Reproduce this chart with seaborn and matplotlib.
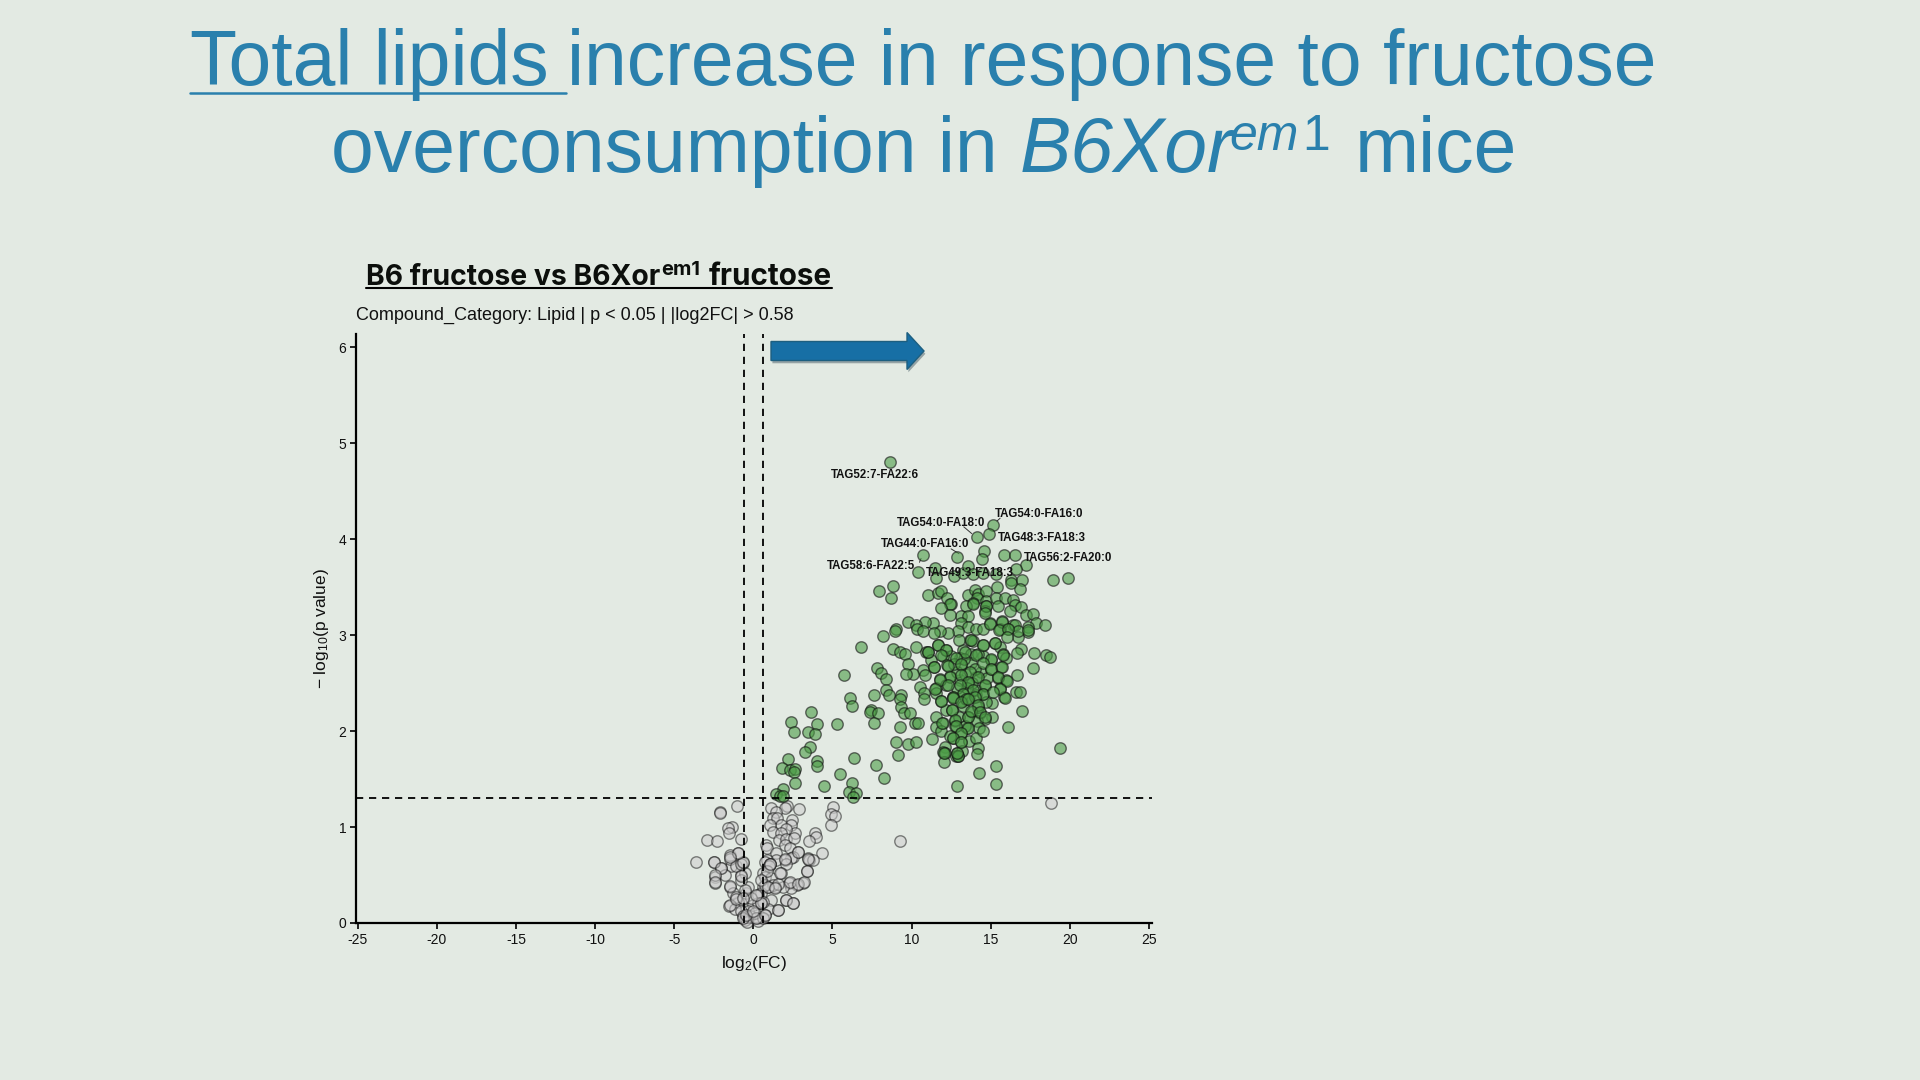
import matplotlib
matplotlib.use('Agg')
import matplotlib.pyplot as plt
import matplotlib.patches as mpatches
import matplotlib.patheffects as pe
from matplotlib.transforms import IdentityTransform
import pandas as pd
import seaborn as sns

# values
green_x = [8.66, 15.15, 14.89, 14.11, 14.58, 14.43, 10.72, 12.87, 15.84, 16.52, 17.21, 16.62, 19.89, 18.94,
           10.43, 11.46, 11.52, 12.70, 13.25, 13.57, 13.88, 14.51, 15.36, 16.30, 16.26, 16.98, 16.83, 15.42,
           8.82, 7.94, 8.70, 11.02, 11.67, 11.88, 12.24, 12.51, 12.45, 11.88, 13.57, 13.99, 14.20, 14.68,
           14.13, 14.72, 13.88, 15.36, 15.88, 16.41, 16.56, 16.94, 13.46, 15.46, 14.68, 14.62, 13.14, 13.57,
           12.41, 16.24, 17.25, 17.67, 17.88, 18.43, 15.74, 14.94, 16.41, 17.36, 17.36, 16.73, 16.09, 15.57,
           13.14, 13.57, 14.09, 14.51, 12.93, 12.30, 11.77, 11.35, 10.87, 9.77, 10.30, 10.34, 10.72, 11.40,
           8.99, 8.95, 8.21, 6.78, 8.82, 9.25, 9.56, 10.30, 11.67, 10.93, 11.04, 12.15, 13.25, 13.67, 13.88,
           14.51, 15.25, 15.57, 16.94, 17.72, 18.52, 18.77, 16.66, 15.78, 15.99, 15.04, 14.51, 13.78, 13.04,
           12.51, 11.99, 11.25, 9.77, 11.40, 10.72, 10.83, 10.09, 9.63, 7.84, 8.05, 8.36, 5.73, 12.26, 13.14,
           13.78, 14.41, 15.04, 15.67, 17.66, 16.66, 15.46, 14.09, 12.45, 11.77, 13.04, 13.57, 12.20, 10.55,
           11.56, 8.36, 14.62, 15.57, 14.09, 13.25, 15.99,
           6.09, 6.23, 7.62, 8.57, 9.35, 9.25, 9.35, 9.50, 9.92, 10.78, 10.78, 7.46, 7.35, 7.88, 7.65, 3.66,
           2.36, 4.04, 5.30, 2.57, 3.47, 3.89, 3.56, 3.28, 9.29, 10.20, 10.41, 9.00, 9.75, 10.26, 9.12, 6.38,
           2.19, 4.00, 4.04, 1.83, 2.34, 2.65, 2.57, 5.45, 7.73, 8.26, 2.65, 6.26, 4.48, 1.87, 1.45, 1.66,
           1.87, 6.02, 6.51, 6.28, 12.89, 15.36, 14.26, 15.34, 19.36, 17.00, 16.12, 15.06, 15.86, 16.62,
           16.83, 11.56, 11.88, 12.62, 13.19, 13.63, 14.09, 14.51, 12.20, 12.58, 13.25, 13.84, 14.30, 15.10,
           14.62, 11.56, 11.99, 12.72, 13.57, 14.16, 11.52, 11.88, 12.72, 13.50, 14.24, 13.14, 11.29, 12.62,
           13.14, 13.63, 14.05, 12.09, 11.99, 12.09, 12.87, 13.21, 14.20, 14.16, 12.79, 12.93, 12.03,
           12.9, 13.4, 13.8, 14.0, 14.8, 13.3, 14.2, 12.7, 13.0, 14.7, 13.5, 12.9, 14.2, 13.0, 13.4, 14.5, 12.4,
           13.78, 14.51, 15.25, 11.04, 11.67, 12.20, 13.35, 12.83, 11.88, 14.09, 15.04, 15.78, 14.51, 13.14,
           12.30, 11.40, 13.67, 15.04, 15.74, 14.20, 15.46, 12.45, 11.77, 13.14, 13.57, 14.62, 12.30, 13.04,
           16.03, 15.57, 13.88, 14.51, 13.25, 12.62, 15.15, 11.46, 13.46, 13.99, 15.88, 14.98, 15.74, 16.51,
           16.73, 15.53, 16.09, 16.03, 17.36, 14.72, 14.62, 13.88,
           11.88, 12.62, 13.14, 13.57, 14.20, 12.55, 13.57, 13.78, 14.30, 14.62, 12.72, 11.94, 12.79, 13.57,
           13.14, 12.62, 13.14, 12.03, 12.93, 12.87]
green_y = [4.81, 4.15, 4.05, 4.02, 3.88, 3.79, 3.84, 3.82, 3.84, 3.84, 3.73, 3.69, 3.60, 3.58,
           3.66, 3.70, 3.60, 3.62, 3.65, 3.72, 3.64, 3.65, 3.64, 3.58, 3.54, 3.58, 3.48, 3.50,
           3.51, 3.46, 3.39, 3.42, 3.44, 3.46, 3.39, 3.33, 3.33, 3.28, 3.42, 3.47, 3.43, 3.46,
           3.39, 3.36, 3.34, 3.39, 3.39, 3.37, 3.32, 3.29, 3.30, 3.30, 3.30, 3.25, 3.20, 3.20,
           3.21, 3.25, 3.21, 3.22, 3.13, 3.11, 3.15, 3.13, 3.11, 3.09, 3.03, 2.98, 3.06, 3.06,
           3.13, 3.09, 3.06, 3.07, 3.04, 3.02, 3.04, 3.13, 3.14, 3.14, 3.11, 3.06, 3.04, 3.02,
           3.07, 3.04, 2.99, 2.88, 2.86, 2.82, 2.80, 2.88, 2.90, 2.83, 2.83, 2.85, 2.85, 2.95, 2.94,
           2.90, 2.92, 2.88, 2.86, 2.81, 2.79, 2.77, 2.81, 2.80, 2.76, 2.74, 2.78, 2.80, 2.76,
           2.78, 2.78, 2.74, 2.70, 2.67, 2.64, 2.59, 2.60, 2.60, 2.66, 2.61, 2.54, 2.59, 2.69, 2.69,
           2.71, 2.62, 2.65, 2.67, 2.66, 2.59, 2.55, 2.56, 2.57, 2.54, 2.53, 2.50, 2.48, 2.46,
           2.45, 2.43, 2.47, 2.45, 2.43, 2.40, 2.53,
           2.35, 2.26, 2.38, 2.38, 2.38, 2.33, 2.25, 2.19, 2.19, 2.40, 2.33, 2.22, 2.20, 2.19, 2.09, 2.20,
           2.10, 2.07, 2.07, 1.99, 1.99, 1.97, 1.83, 1.78, 2.04, 2.08, 2.08, 1.89, 1.87, 1.89, 1.75, 1.72,
           1.71, 1.69, 1.64, 1.62, 1.60, 1.61, 1.57, 1.55, 1.65, 1.51, 1.46, 1.46, 1.43, 1.40, 1.34, 1.32,
           1.32, 1.37, 1.35, 1.31, 1.43, 1.45, 1.56, 1.64, 1.82, 2.21, 2.04, 2.29, 2.36, 2.41,
           2.41, 2.40, 2.31, 2.36, 2.31, 2.35, 2.38, 2.39, 2.22, 2.22, 2.26, 2.20, 2.19, 2.15,
           2.13, 2.15, 2.08, 2.11, 2.15, 2.11, 2.04, 2.00, 2.05, 2.03, 2.03, 1.98, 1.92, 1.93,
           1.89, 1.90, 1.93, 1.83, 1.78, 1.77, 1.77, 1.79, 1.82, 1.76, 1.74, 1.74, 1.68,
           2.62, 2.60, 2.50, 2.65, 2.55, 2.75, 2.80, 2.70, 2.95, 2.30, 2.45, 2.45, 2.25, 2.15, 2.05, 2.00, 1.95,
           2.95, 2.90, 2.92, 2.83, 2.90, 2.85, 2.83, 2.76, 2.79, 2.79, 2.75, 2.79, 2.71, 2.70,
           2.68, 2.67, 2.62, 2.65, 2.67, 2.56, 2.56, 2.56, 2.53, 2.59, 2.51, 2.48, 2.48, 2.48,
           2.52, 2.44, 2.43, 2.39, 2.39, 2.36, 2.41, 2.44, 2.34, 2.36, 2.35, 3.12, 3.14, 3.11,
           3.04, 3.05, 3.06, 2.98, 3.05, 3.30, 3.23, 3.33,
           2.31, 2.35, 2.30, 2.33, 2.27, 2.22, 2.15, 2.21, 2.20, 2.15, 2.12, 2.08, 2.05, 2.03,
           1.98, 1.93, 1.89, 1.77, 1.74, 1.77]

grey_x = [18.83, 9.29, 5.01, 4.88, 5.14, 4.93, 4.34, 3.87, 3.94, 3.49, 2.88, 2.12, 1.98, 1.13, 1.45, 1.24, 1.49,
          2.44, 2.40, 1.72, 1.03, 2.61, 1.24, 2.08, 1.77, 1.62, 2.08, 2.57, 1.98, 2.29, 2.82, 0.82, 0.86, 1.45,
          2.50, 3.45, 3.52, 3.77, 2.36, 1.98, 1.45, 0.86, 0.71, 1.03, 2.08, 3.39, 1.72, 0.61, 0.71, 1.13, 3.14,
          2.76, 2.25, 2.40, 1.87, 1.34, 0.92, 0.61, 0.50, 0.29, 1.13, 2.04, 2.50, 1.56, 0.92, 0.71, 0.23, 0.50,
          -0.02, -0.34, -0.38, -0.66, -0.45, -0.97, -1.54, -1.18, -0.76, -1.50, -1.29, -1.39, -2.03, -2.49,
          -3.65, -2.45, -2.45, -1.82, -1.50, -1.46, -0.97, -0.66, -0.76, -0.55, -0.34, -0.76, -2.13, -2.11,
          -1.01, -1.33, -1.60, -1.54, -0.76, -2.93, -2.30, 1.07, 0.99, 0.86, 1.24, 1.56, 0.29, 0.61, -0.13,
          -0.55, -1.08, -0.24, -0.66, 0.71, 0.50, -1.08, -0.76, -0.55, -0.40, 0.30, 0.10, 0.60,
          -0.65, 0.19, 0.72, -0.44, -0.02, 1.56, 2.05, 2.51, -1.49, -1.07, -0.65, 0.51, 0.19, 0.93, 1.35, 2.30,
          2.83, 3.18, -1.49, -0.76, 1.67, 3.42, 1.03, -0.65, -0.97, -1.49, -2.48, -2.02, -2.44, -2.44, 2.83,
          1.98, 3.46]
grey_y = [1.25, 0.85, 1.21, 1.14, 1.12, 1.02, 0.73, 0.94, 0.90, 0.85, 1.19, 1.22, 1.20, 1.20, 1.16, 1.09, 1.09,
          1.07, 1.02, 1.02, 1.02, 0.94, 0.95, 0.98, 0.94, 0.87, 0.88, 0.89, 0.81, 0.78, 0.74, 0.81, 0.78, 0.73,
          0.69, 0.68, 0.66, 0.66, 0.68, 0.66, 0.66, 0.66, 0.64, 0.61, 0.61, 0.54, 0.52, 0.52, 0.48, 0.47, 0.42,
          0.40, 0.42, 0.36, 0.38, 0.38, 0.38, 0.38, 0.31, 0.29, 0.24, 0.24, 0.21, 0.14, 0.15, 0.08, 0.05, 0.21,
          0.19, 0.12, 0.06, 0.25, 0.31, 0.22, 0.18, 0.15, 0.12, 0.38, 0.31, 0.59, 0.57, 0.64,
          0.64, 0.48, 0.42, 0.50, 0.71, 0.67, 0.73, 0.63, 0.50, 0.52, 0.38, 0.45, 1.16, 1.15,
          1.22, 1.00, 0.99, 0.94, 0.88, 0.87, 0.85, 0.62, 0.59, 0.54, 0.40, 0.41, 0.21, 0.22, 0.26,
          0.34, 0.27, 0.07, 0.07, 0.40, 0.45, 0.59, 0.61, 0.03, 0.01, 0.02, 0.10, 0.05,
          0.05, 0.05, 0.08, 0.08, 0.12, 0.14, 0.24, 0.21, 0.19, 0.25, 0.26, 0.21, 0.29, 0.38, 0.36, 0.43,
          0.41, 0.43, 0.39, 0.49, 0.52, 0.54, 0.61, 0.64, 0.73, 0.69, 0.64, 0.57, 0.50, 0.43, 0.74,
          0.67, 0.67]

tag_labels = ['TAG52:7-FA22:6', 'TAG54:0-FA16:0', 'TAG54:0-FA18:0', 'TAG48:3-FA18:3',
              'TAG44:0-FA16:0', 'TAG56:2-FA20:0', 'TAG58:6-FA22:5', 'TAG49:3-FA18:3']
tag_x = [7.69, 18.05, 11.84, 18.22, 10.85, 19.91, 7.45, 13.67]
tag_y = [4.67, 4.26, 4.165, 4.01, 3.95, 3.81, 3.72, 3.65]

x_ticks = list(range(-25, 30, 5))
y_ticks = [0, 1, 2, 3, 4, 5, 6]

bg = '#e3eae3'
blue = '#2a80ad'

green_df = pd.DataFrame({'log2fc': green_x, 'logp': green_y})
grey_df = pd.DataFrame({'log2fc': grey_x, 'logp': grey_y})

sns.set_theme(style='ticks')
plt.rcParams['font.family'] = ['Liberation Sans', 'DejaVu Sans']
plt.rcParams['mathtext.default'] = 'regular'
plt.rcParams['axes.unicode_minus'] = False

fig = plt.figure(figsize=(19.2, 10.8), dpi=100, facecolor=bg)
# axes box in pixels: left 356, right 1152, top 334, bottom 923
ax = fig.add_axes([356 / 1920, (1080 - 923) / 1080, 796 / 1920, 589 / 1080], facecolor=bg)

sns.scatterplot(data=grey_df, x='log2fc', y='logp', color='#cccccc', s=68, alpha=0.5,
                edgecolor='#111111', linewidth=1.0, clip_on=False, ax=ax, zorder=3)
sns.scatterplot(data=green_df, x='log2fc', y='logp', color='#4c9c46', s=68, alpha=0.6,
                edgecolor='#111111', linewidth=1.0, clip_on=False, ax=ax, zorder=3)

ax.set_xlim(-25.12, 25.2)
ax.set_ylim(0, 6.14)
ax.set_xticks(x_ticks)
ax.set_yticks(y_ticks)
ax.tick_params(labelsize=10, length=4, width=1.2, color='black', labelcolor='#111111', pad=3)
ax.set_xlabel(r'log$_2$(FC)', fontsize=12.5, color='#111111', labelpad=5)
ax.set_ylabel(r'$-$ log$_{10}$(p value)', fontsize=12.5, color='#111111', labelpad=5)
sns.despine(ax=ax)
for side in ['left', 'bottom']:
    ax.spines[side].set_linewidth(1.6)
    ax.spines[side].set_color('black')

for v in [-0.58, 0.58]:
    ax.axvline(v, color='black', lw=1.3, ls=(0, (4, 3.2)), zorder=4)
ax.axhline(1.3, color='black', lw=1.3, ls=(0, (4, 3.2)), zorder=4)

for lab, tx, ty in zip(tag_labels, tag_x, tag_y):
    ax.text(tx, ty, lab, fontsize=8.3, fontweight='bold', color='#111111',
            ha='center', va='center', zorder=6)

# short leader lines next to the labelled points
for (x0, y0, x1, y1) in [(13.3, 4.13, 13.8, 4.06), (15.4, 4.19, 15.6, 4.22), (12.5, 3.9, 13.0, 3.85), (10.5, 3.76, 10.6, 3.8)]:
    ax.plot([x0, x1], [y0, y1], color='#333333', lw=0.7, zorder=2)


def pix_text(x, y, s, **kw):
    # x, y are pixels from the top left corner of the picture, y is the baseline
    return fig.text(x, 1080 - y, s, transform=IdentityTransform(), va='baseline', ha='left', **kw)


title_kw = dict(color=blue, fontsize=55.4, family=['Liberation Sans', 'DejaVu Sans'])
pix_text(190, 85, 'Total lipids', **title_kw)
pix_text(567, 85, 'increase in response to fructose', **title_kw)
pix_text(331, 172, 'overconsumption in', **title_kw)
pix_text(1020, 172, 'B6Xor', style='italic', **title_kw)
pix_text(1229, 150, 'em', color=blue, fontsize=36, family=['Liberation Sans', 'DejaVu Sans'], style='italic')
pix_text(1302, 150, '1', color=blue, fontsize=36, family=['Liberation Sans', 'DejaVu Sans'])
pix_text(1355, 172, 'mice', **title_kw)
fig.add_artist(plt.Line2D([190, 566], [1080 - 93, 1080 - 93], color=blue, lw=1.8, transform=IdentityTransform()))

head_kw = dict(color='#0c0f0c', family=['Inter', 'DejaVu Sans'], fontweight='bold')
pix_text(366, 285, 'B6 fructose vs B6Xor', fontsize=20.4, **head_kw)
pix_text(661, 275, 'em1', fontsize=14.5, **head_kw)
pix_text(709, 285, 'fructose', fontsize=21.4, **head_kw)
fig.add_artist(plt.Line2D([366, 832], [1080 - 288, 1080 - 288], color='black', lw=1.5, transform=IdentityTransform()))

pix_text(356, 320, 'Compound_Category: Lipid | p < 0.05 | |log2FC| > 0.58', fontsize=12.95, color='#111111')

arrow = mpatches.FancyArrow(771, 1080 - 351, 153, 0, width=19, head_width=37, head_length=17,
                            length_includes_head=True, facecolor='#176fa5', edgecolor='#1d5f80', lw=1,
                            transform=IdentityTransform(), zorder=10,
                            path_effects=[pe.SimplePatchShadow(offset=(1, -2), alpha=0.35), pe.Normal()])
fig.add_artist(arrow)

fig.savefig('out.png', dpi=100, facecolor=bg)
